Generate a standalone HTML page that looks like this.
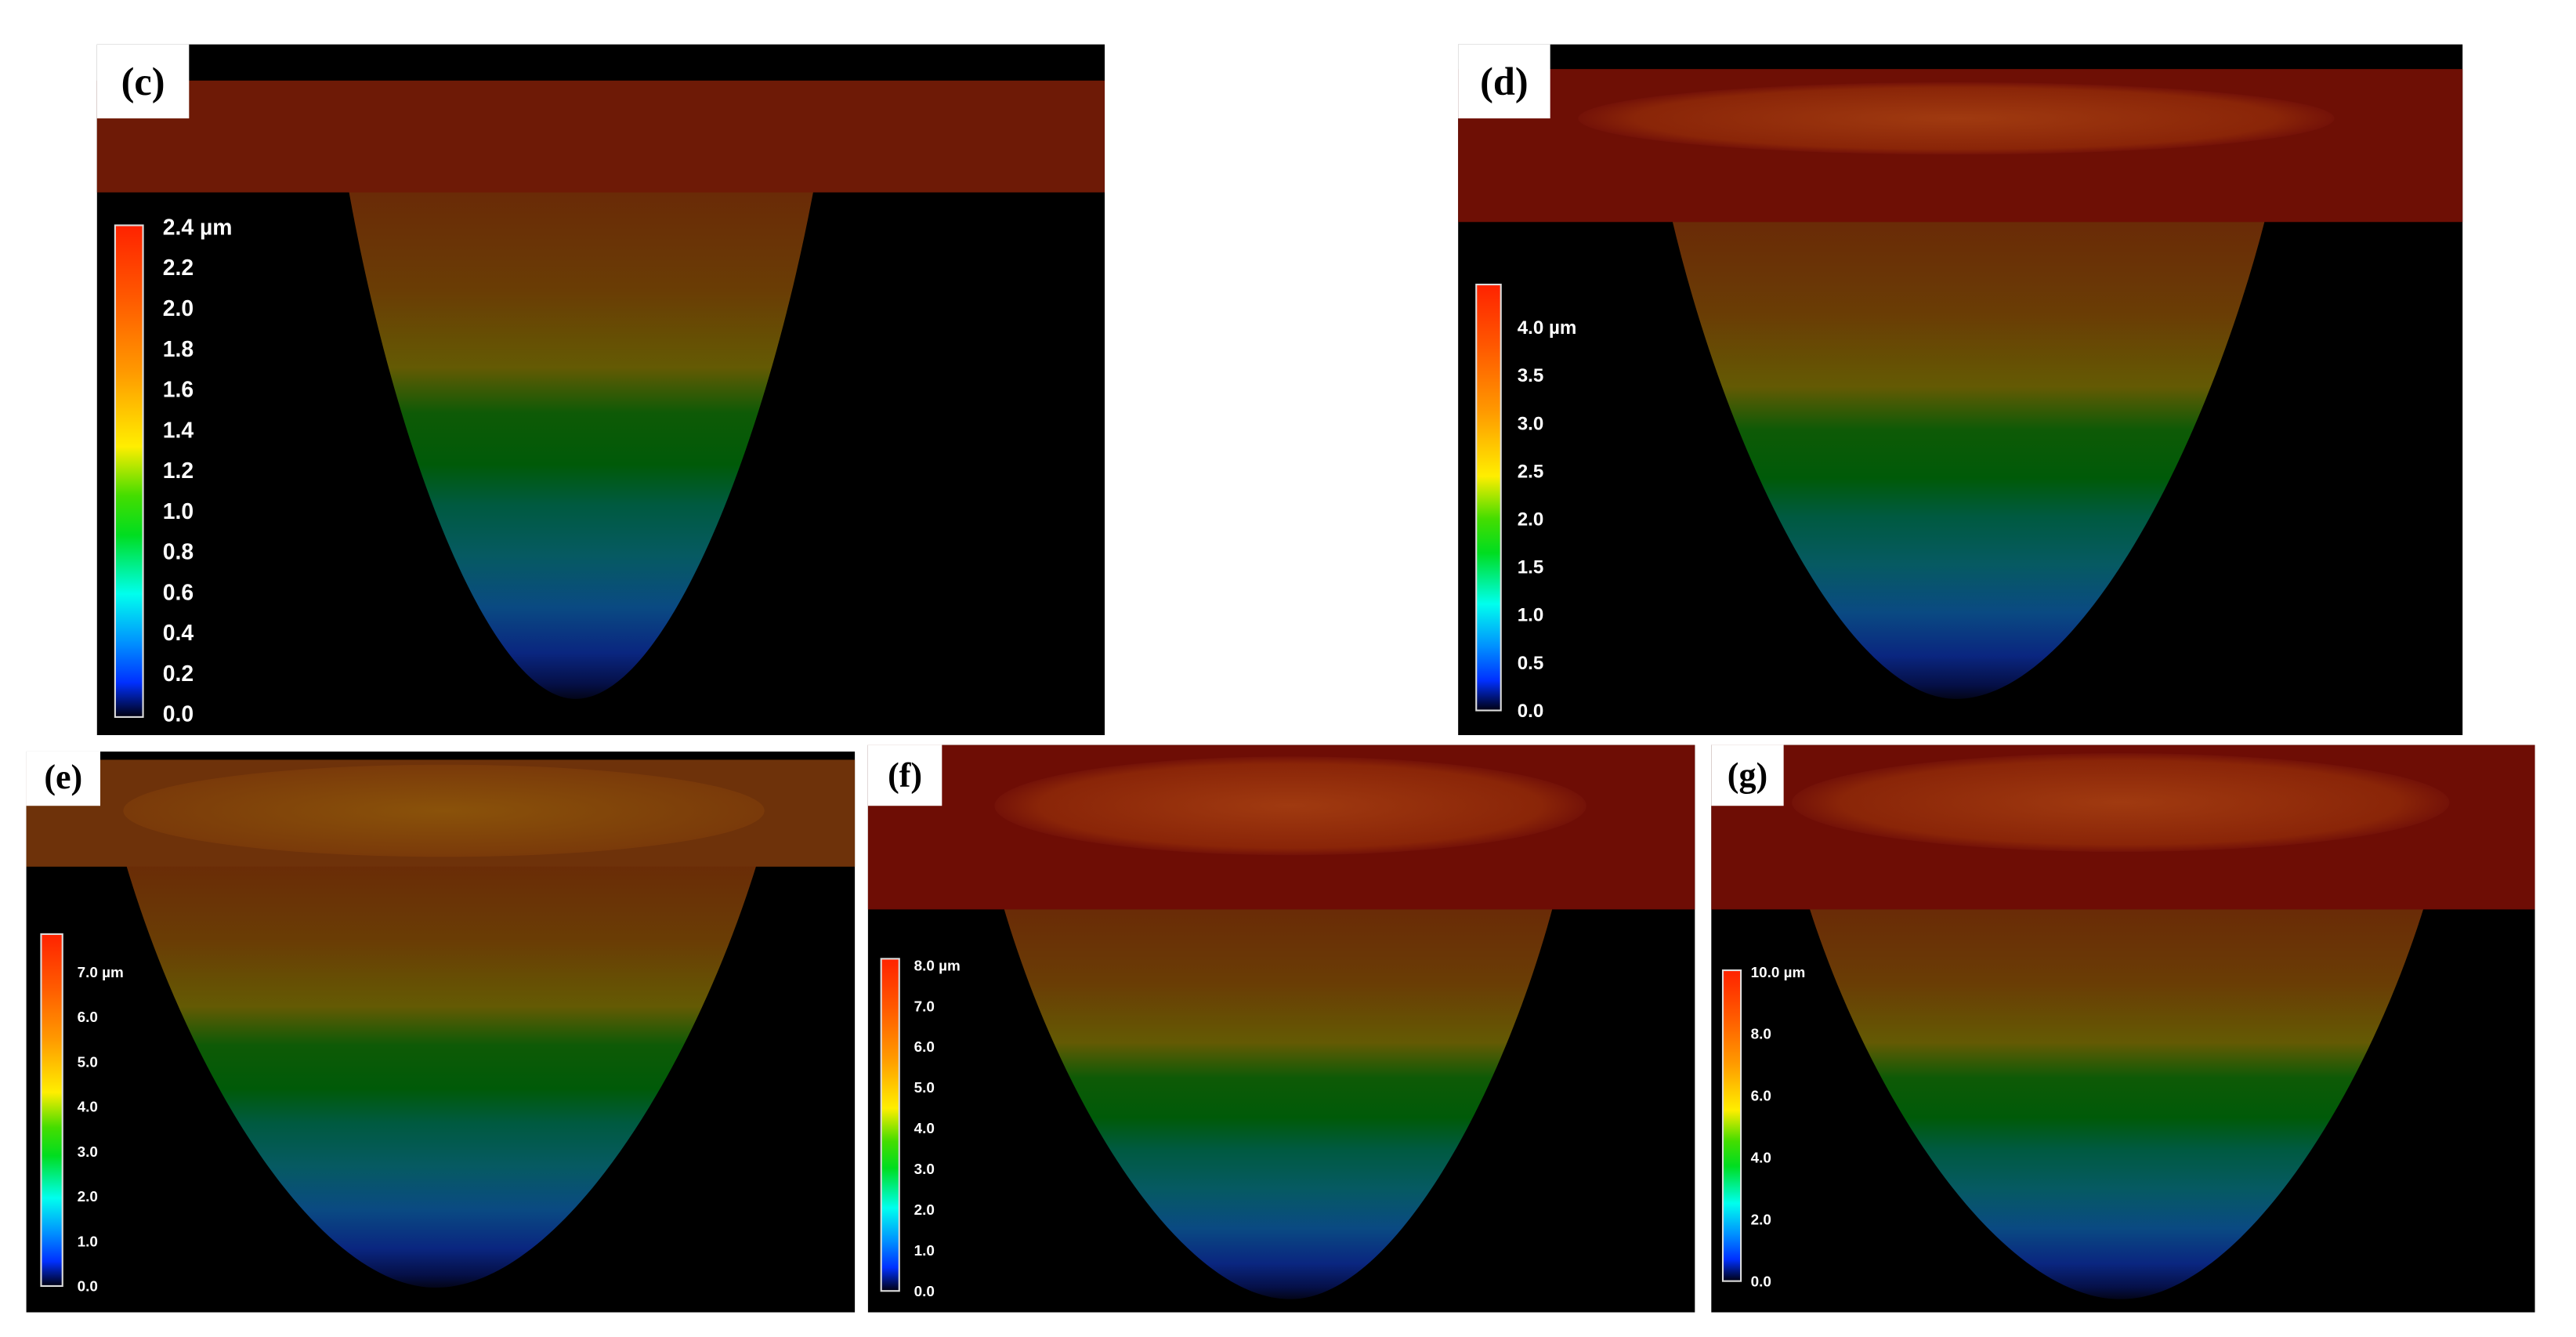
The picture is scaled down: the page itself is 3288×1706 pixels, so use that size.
<!DOCTYPE html>
<html><head><meta charset="utf-8"><style>
html,body{margin:0;padding:0;background:#fff;}
svg{display:block;}
</style></head><body>
<svg id="fig" xmlns="http://www.w3.org/2000/svg" width="3288" height="1706" viewBox="0 0 1567 813" preserveAspectRatio="none">
<defs>
<linearGradient id="cbar" x1="0" y1="0" x2="0" y2="1">
<stop offset="0" stop-color="#ff2200"/><stop offset="0.15" stop-color="#ff5a00"/>
<stop offset="0.3" stop-color="#ff9a00"/><stop offset="0.45" stop-color="#ffee00"/>
<stop offset="0.55" stop-color="#44dd00"/><stop offset="0.63" stop-color="#00dd20"/>
<stop offset="0.75" stop-color="#00ffee"/><stop offset="0.85" stop-color="#0090ff"/>
<stop offset="0.93" stop-color="#0030ff"/><stop offset="1" stop-color="#000010"/>
</linearGradient>
<linearGradient id="cone" x1="0" y1="0" x2="0" y2="1">
<stop offset="0" stop-color="#6a2a07"/><stop offset="0.2" stop-color="#6a3d05"/>
<stop offset="0.35" stop-color="#645a04"/><stop offset="0.44" stop-color="#0e5a06"/>
<stop offset="0.54" stop-color="#005a08"/><stop offset="0.62" stop-color="#005a40"/>
<stop offset="0.72" stop-color="#065a62"/><stop offset="0.82" stop-color="#0a4a82"/>
<stop offset="0.91" stop-color="#0a2680"/><stop offset="0.97" stop-color="#051048"/>
<stop offset="1" stop-color="#030518"/>
</linearGradient>
<radialGradient id="rim" cx="0.5" cy="0.5" r="0.5">
<stop offset="0" stop-color="#a03a10"/><stop offset="0.85" stop-color="#8a2508"/><stop offset="1" stop-color="#741208"/>
</radialGradient>
<radialGradient id="rimE" cx="0.5" cy="0.5" r="0.5">
<stop offset="0" stop-color="#8a520a"/><stop offset="1" stop-color="#7a3a0a"/>
</radialGradient>
</defs>
<g id="root"></g>
</svg>
<script>
// colorbar tick labels per panel (values from picture)
const ticksC = ["0.0","0.2","0.4","0.6","0.8","1.0","1.2","1.4","1.6","1.8","2.0","2.2","2.4 µm"];
const ticksD = ["0.0","0.5","1.0","1.5","2.0","2.5","3.0","3.5","4.0 µm"];
const ticksE = ["0.0","1.0","2.0","3.0","4.0","5.0","6.0","7.0 µm"];
const ticksF = ["0.0","1.0","2.0","3.0","4.0","5.0","6.0","7.0","8.0 µm"];
const ticksG = ["0.0","2.0","4.0","6.0","8.0","10.0 µm"];
const panelLetters = ["(c)","(d)","(e)","(f)","(g)"];

const NS="http://www.w3.org/2000/svg";
const root=document.getElementById('root');
function mk(tag,attrs,parent){const e=document.createElementNS(NS,tag);for(const k in attrs)e.setAttribute(k,attrs[k]);(parent||root).appendChild(e);return e;}

const panels=[
 {x:59,y:27,w:613,h:420,lb:56,lh:45,bandTop:49,bandBot:117,band:"#6e1a06",rim:null,
  cl:212,cr:495,ct:115,cb:425,cx:350,
  bx:70,by:137,bw:17,bh:299,ticks:ticksC,top0:138,bot0:434,fs:13.5,lx:99},
 {x:887,y:27,w:611,h:420,lb:56,lh:45,bandTop:42,bandBot:135,band:"#6e0f05",rim:{cx:1190,cy:72,rx:230,ry:22,f:"url(#rim)"},
  cl:1017,cr:1378,ct:133,cb:425,cx:1190,
  bx:898,by:173,bw:15,bh:259,ticks:ticksD,top0:199,bot0:432,fs:11.5,lx:923},
 {x:16,y:457,w:504,h:341,lb:45,lh:33,bandTop:462,bandBot:527,band:"#6e320a",rim:{cx:270,cy:493,rx:195,ry:28,f:"url(#rimE)"},
  cl:75,cr:462,ct:520,cb:783,cx:265,
  bx:25,by:568,bw:13,bh:214,ticks:ticksE,top0:591,bot0:782,fs:9,lx:47},
 {x:528,y:453,w:503,h:345,lb:45,lh:37,bandTop:453,bandBot:553,band:"#6e0d05",rim:{cx:785,cy:490,rx:180,ry:30,f:"url(#rim)"},
  cl:610,cr:945,ct:550,cb:790,cx:785,
  bx:536,by:583,bw:11,bh:202,ticks:ticksF,top0:587,bot0:785,fs:9,lx:556},
 {x:1041,y:453,w:501,h:345,lb:44,lh:37,bandTop:453,bandBot:553,band:"#6e0d05",rim:{cx:1290,cy:488,rx:200,ry:30,f:"url(#rim)"},
  cl:1100,cr:1475,ct:550,cb:790,cx:1290,
  bx:1048,by:590,bw:11,bh:189,ticks:ticksG,top0:591,bot0:779,fs:9,lx:1065}
];
const names=["c","d","e","f","g"];
panels.forEach((p,i)=>{
 const g=mk('g',{});
 
 
 const bg=mk('rect',{x:p.x,y:p.y,width:p.w,height:p.h,fill:'#000'},g);
 
 
 const dx=p.cx-p.cl, dx2=p.cr-p.cx, H=p.cb-p.ct;
 const d=`M${p.cl},${p.ct} C${p.cl+dx*0.2},${p.ct+H*0.5} ${p.cx-dx*0.38},${p.cb} ${p.cx},${p.cb} C${p.cx+dx2*0.38},${p.cb} ${p.cr-dx2*0.2},${p.ct+H*0.5} ${p.cr},${p.ct} Z`;
 const cone=mk('path',{d:d,fill:'url(#cone)'},g);
 
 
 const band=mk('rect',{x:p.x,y:p.bandTop,width:p.w,height:p.bandBot-p.bandTop,fill:p.band},g);
 
 
 if(p.rim){
  const r=mk('ellipse',{cx:p.rim.cx,cy:p.rim.cy,rx:p.rim.rx,ry:p.rim.ry,fill:p.rim.f},g);
  
  
 }
 const cb=mk('rect',{x:p.bx,y:p.by,width:p.bw,height:p.bh,fill:'url(#cbar)',stroke:'#ddd','stroke-width':1},g);
 
 
 const n=p.ticks.length;
 p.ticks.forEach((t,k)=>{
  const yy=p.bot0-(p.bot0-p.top0)*k/(n-1);
  const tx=mk('text',{x:p.lx,y:yy+p.fs*0.35,fill:'#fff','font-family':'Liberation Sans, sans-serif','font-size':p.fs,'font-weight':'bold'},g);
  tx.textContent=t;
  
  
 });
 const lb=mk('rect',{x:p.x,y:p.y,width:p.lb,height:p.lh,fill:'#fff'},g);
 
 
 const lt=mk('text',{x:p.x+p.lb/2,y:p.y+p.lh*0.68,'text-anchor':'middle',fill:'#000','font-family':'Liberation Serif, serif','font-weight':'bold','font-size':i<2?24:21},g);
 lt.textContent=panelLetters[i];
 
 
});
</script>
</body></html>
